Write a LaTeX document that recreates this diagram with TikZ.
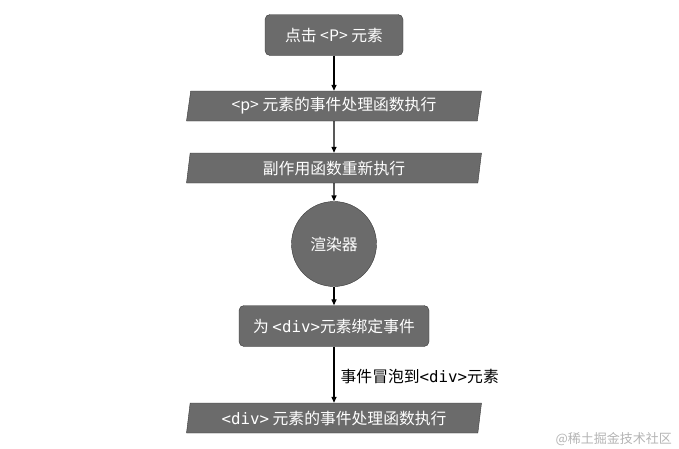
\documentclass[tikz,border=0pt]{standalone}
\usepackage{fontspec}
\setmainfont{Noto Sans CJK SC}
\newfontfamily\codefont{DejaVu Sans Mono}
\usetikzlibrary{arrows.meta, shapes.geometric}
\definecolor{boxfill}{HTML}{6B6B6B}
\definecolor{boxline}{HTML}{3A3A3A}
\definecolor{marktext}{HTML}{B4B4B4}

\begin{document}
\begin{tikzpicture}[x=1pt, y=-1pt, every node/.style={draw=boxline, fill=boxfill,
						text=white, font=\fontsize{15.8}{18}\selectfont, inner sep=0pt}]
			\useasboundingbox (0,0) rectangle (679,448);
			\tikzset{roundbox/.style={rounded corners=5pt, minimum height=41pt},
				slantbox/.style={trapezium, trapezium left angle=76, trapezium right angle=104,
					trapezium stretches body, minimum width=295pt, minimum height=30pt},
				flow/.style={-{Triangle[length=6pt, width=5pt]}, line width=1.3pt}}
			\node[roundbox, minimum width=138pt] (click) at (334,35) {点击 <P> 元素};
			\node[slantbox] (phandler) at (334,106) {<p> 元素的事件处理函数执行};
			\node[slantbox] (effect) at (334,168) {副作用函数重新执行};
			\node[circle, minimum size=85pt] (renderer) at (334,244) {渲染器};
			\node[roundbox, minimum width=190pt] (bind) at (334,326) {为 {\codefont <div>}元素绑定事件};
			\node[slantbox] (divhandler) at (334,418) {{\codefont <div>} 元素的事件处理函数执行};

			\draw[flow] (click) -- (phandler);
			\draw[flow] (phandler) -- (effect);
			\draw[flow] (effect) -- (renderer);
			\draw[flow] (renderer) -- (bind);
			\draw[flow] (bind) -- node[right, draw=none, fill=none, text=black, xshift=6pt, yshift=-2pt] {事件冒泡到{\codefont <div>}元素} (divhandler);

			\node[draw=none, fill=none, text=marktext, anchor=east, font=\fontsize{13}{15}\selectfont] (mark) at (672,439) {@稀土掘金技术社区};
		\end{tikzpicture}
\end{document}
